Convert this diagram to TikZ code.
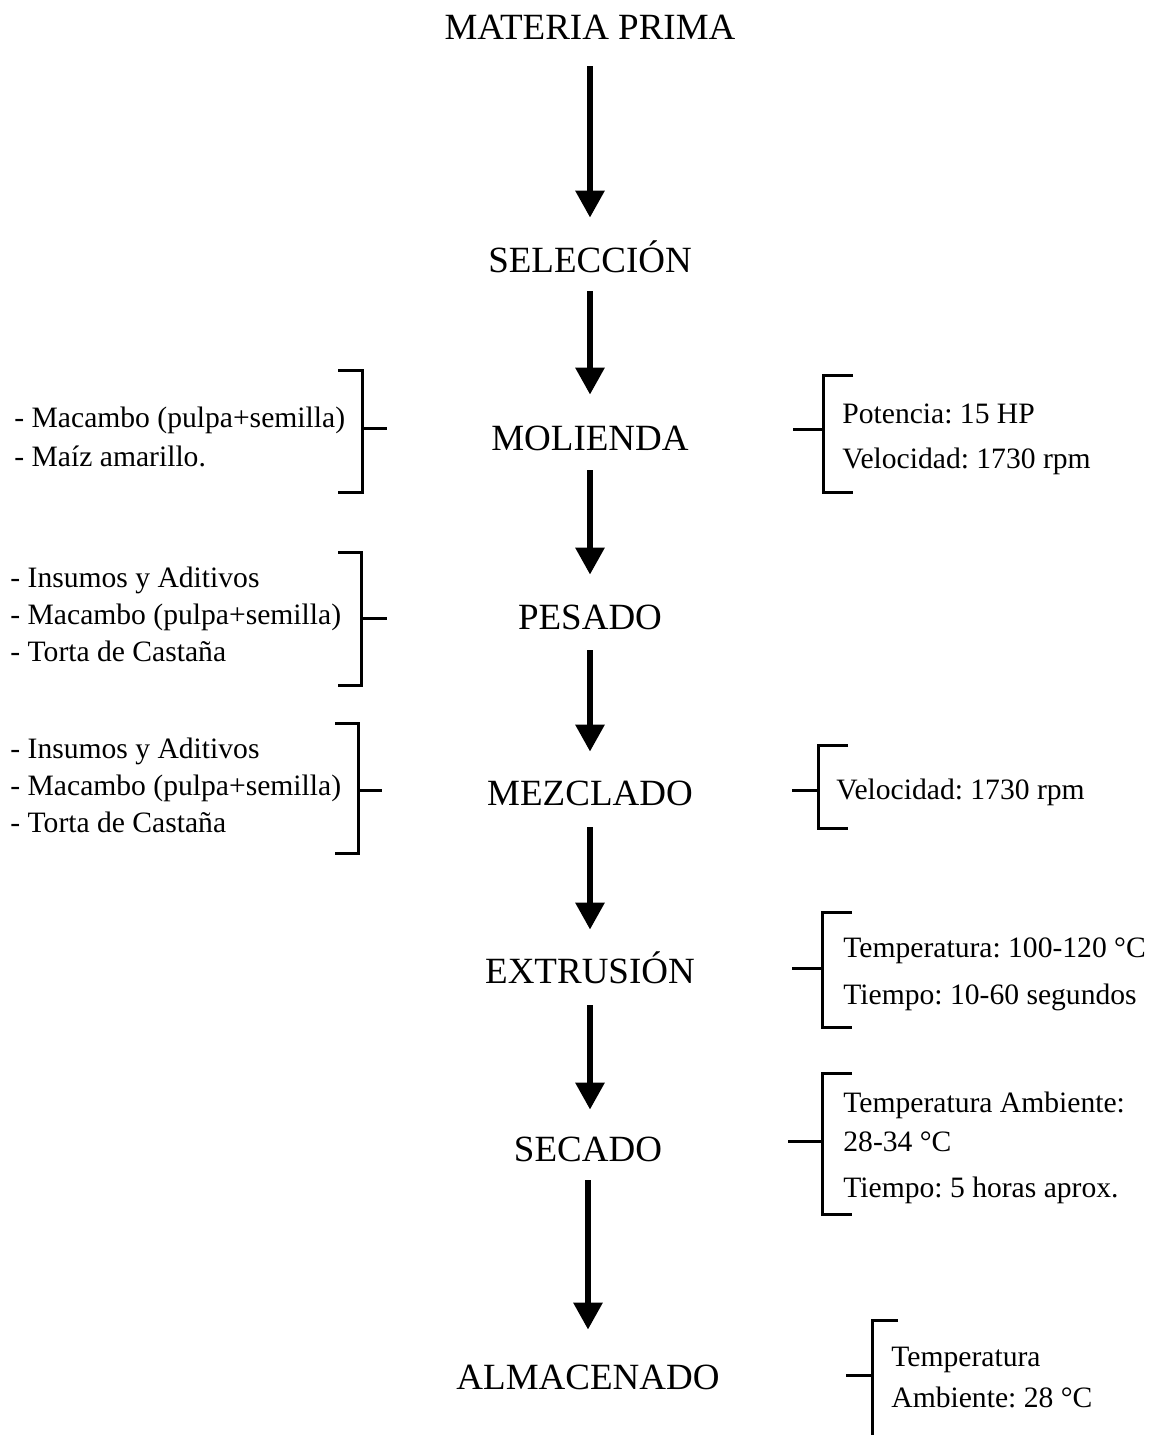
\documentclass[tikz,border=0pt]{standalone}
\usepackage{fontspec}
\setmainfont{Liberation Serif}
\usetikzlibrary{arrows.meta}
\frenchspacing
\begin{document}
\begin{tikzpicture}[x=0.5pt,y=-0.5pt,
  mainlbl/.style={anchor=base, inner sep=0pt, font=\fontsize{18.5}{22}\selectfont, text height=13pt, text depth=0pt},
  sidelbl/.style={anchor=base west, inner sep=0pt, font=\fontsize{14.8}{18}\selectfont},
  flow/.style={line width=3pt, -{Triangle[width=14pt,length=13.5pt]}},
  brk/.style={line width=1.5pt, line cap=butt, line join=miter}]
\useasboundingbox (0,0) rectangle (1154,1435);

% main steps
\node[mainlbl] (mp)  at (590,39)   {MATERIA PRIMA};
\node[mainlbl] (sel) at (590,272)  {SELECCIÓN};
\node[mainlbl] (mol) at (590,450)  {MOLIENDA};
\node[mainlbl] (pes) at (590,629)  {PESADO};
\node[mainlbl] (mez) at (590,805)  {MEZCLADO};
\node[mainlbl] (ext) at (590,983)  {EXTRUSIÓN};
\node[mainlbl] (sec) at (588,1161) {SECADO};
\node[mainlbl] (alm) at (588,1389) {ALMACENADO};

% arrows
\draw[flow, shorten <=13.5pt, shorten >=14pt]   (mp.south)  -- (mp.south |- sel.north);
\draw[flow, shorten <=9.5pt,  shorten >=14.5pt] (sel.south) -- (sel.south |- mol.north);
\draw[flow, shorten <=10pt,   shorten >=14pt]   (mol.south) -- (mol.south |- pes.north);
\draw[flow, shorten <=10.5pt, shorten >=13.5pt] (pes.south) -- (pes.south |- mez.north);
\draw[flow, shorten <=11pt,   shorten >=13.5pt] (mez.south) -- (mez.south |- ext.north);
\draw[flow, shorten <=11pt,   shorten >=12.5pt] (ext.south) -- (ext.south |- sec.north);
\draw[flow, shorten <=9.5pt,  shorten >=16.5pt] (sec.south) -- (sec.south |- alm.north);

% left inputs
\node[sidelbl] (l1a) at (14,427) {- Macambo (pulpa+semilla)};
\node[sidelbl] (l1b) at (14,466) {- Maíz amarillo.};
\draw[brk] (338,370) -- (362,370) -- (362,492) -- (338,492);
\draw[brk] (362,428) -- (387,428);

\node[sidelbl] (l2a) at (10,587) {- Insumos y Aditivos};
\node[sidelbl] (l2b) at (10,624) {- Macambo (pulpa+semilla)};
\node[sidelbl] (l2c) at (10,661) {- Torta de Castaña};
\draw[brk] (338,552) -- (361,552) -- (361,685) -- (338,685);
\draw[brk] (361,618) -- (387,618);

\node[sidelbl] (l3a) at (10,758) {- Insumos y Aditivos};
\node[sidelbl] (l3b) at (10,795) {- Macambo (pulpa+semilla)};
\node[sidelbl] (l3c) at (10,832) {- Torta de Castaña};
\draw[brk] (335,723) -- (358,723) -- (358,853) -- (335,853);
\draw[brk] (358,790) -- (382,790);

% right parameters
\node[sidelbl] (r1a) at (842,423) {Potencia: 15 HP};
\node[sidelbl] (r1b) at (842,468) {Velocidad: 1730 rpm};
\draw[brk] (853,375) -- (823,375) -- (823,492) -- (853,492);
\draw[brk] (793,429) -- (823,429);

\node[sidelbl] (r2a) at (836,799) {Velocidad: 1730 rpm};
\draw[brk] (848,745) -- (818,745) -- (818,828) -- (848,828);
\draw[brk] (792,790) -- (818,790);

\node[sidelbl] (r3a) at (843,957)  {Temperatura: 100-120 °C};
\node[sidelbl] (r3b) at (843,1004) {Tiempo: 10-60 segundos};
\draw[brk] (852,912) -- (822,912) -- (822,1027) -- (852,1027);
\draw[brk] (792,968) -- (822,968);

\node[sidelbl] (r4a) at (843,1112) {Temperatura Ambiente:};
\node[sidelbl] (r4b) at (843,1151) {28-34 °C};
\node[sidelbl] (r4c) at (843,1197) {Tiempo: 5 horas aprox.};
\draw[brk] (852,1073) -- (822,1073) -- (822,1214) -- (852,1214);
\draw[brk] (788,1141) -- (822,1141);

\node[sidelbl] (r5a) at (891,1366) {Temperatura};
\node[sidelbl] (r5b) at (891,1407) {Ambiente: 28 °C};
\draw[brk] (898,1320) -- (872,1320) -- (872,1435);
\draw[brk] (846,1375) -- (872,1375);
\end{tikzpicture}
\end{document}
